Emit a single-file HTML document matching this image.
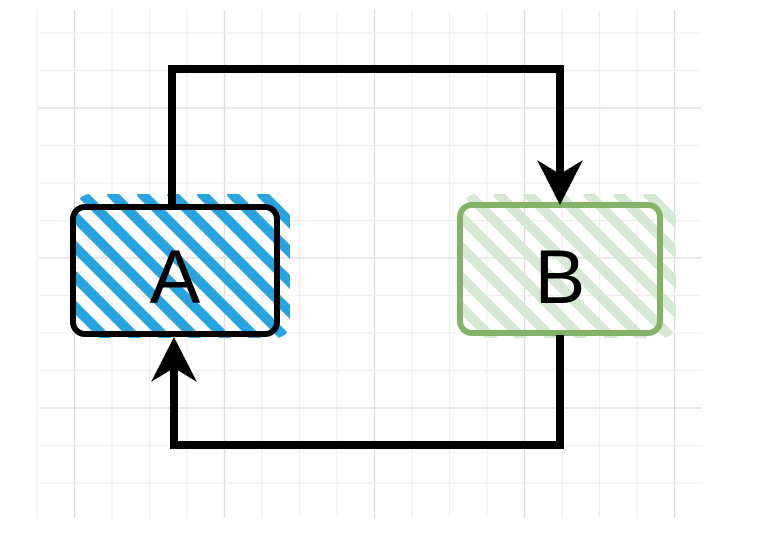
<!DOCTYPE html>
<html><head><meta charset="utf-8"><style>
html,body{margin:0;padding:0;background:#fff;width:759px;height:534px;overflow:hidden}
svg{display:block}
text{font-family:"Liberation Sans",sans-serif}
</style></head><body>
<svg id="s" width="759" height="534" viewBox="0 0 759 534">
<defs>
<clipPath id="ca"><rect x="76" y="194" width="214" height="144" rx="14"/></clipPath>
<clipPath id="cb"><rect x="462" y="194" width="214" height="144" rx="14"/></clipPath>
</defs>
<g id="grid"></g>
<g>
<g clip-path="url(#ca)" stroke="#27a3e0" stroke-width="10" stroke-linecap="round" id="ha"></g>
<rect x="73" y="207" width="204" height="127" rx="12" fill="none" stroke="#000" stroke-width="6"/>
<text x="175" y="303" font-size="76" text-anchor="middle" fill="#000">A</text>
</g>
<g>
<g clip-path="url(#cb)" stroke="#d5e8d4" stroke-width="10" stroke-linecap="round" id="hb"></g>
<rect x="460" y="205" width="200" height="128" rx="12" fill="none" stroke="#82b366" stroke-width="6"/>
<text x="560" y="303" font-size="76" text-anchor="middle" fill="#000">B</text>
</g>
<g>
<polyline points="172,205 172,69 560,69 560,180" fill="none" stroke="#000" stroke-width="8"/>
<polygon points="560,205 537,160 560,174 583,160" fill="#000"/>
</g>
<g>
<polyline points="560,335 560,445 174,445 174,360" fill="none" stroke="#000" stroke-width="8"/>
<polygon points="174,337 151,382 174,368 197,382" fill="#000"/>
</g>
</svg>
<script>
const NS='http://www.w3.org/2000/svg';
const g=document.getElementById('grid');
for(let i=0;i<=17;i++){
  const x=37+i*37.5;
  const l=document.createElementNS(NS,'line');
  l.setAttribute('x1',x);l.setAttribute('x2',x);l.setAttribute('y1',10);l.setAttribute('y2',518);
  l.setAttribute('stroke',(i%4===1)?'#dcdcdc':'#f0f0f0');l.setAttribute('stroke-width',1.3);
  
  
  if(x<=703) g.appendChild(l);
}
for(let i=0;i<=13;i++){
  const y=33+i*37.5;
  const l=document.createElementNS(NS,'line');
  l.setAttribute('y1',y);l.setAttribute('y2',y);l.setAttribute('x1',39);l.setAttribute('x2',702);
  l.setAttribute('stroke',(i%4===2)?'#dcdcdc':'#f0f0f0');l.setAttribute('stroke-width',1.3);
  
  
  if(y<=518) g.appendChild(l);
}
function hatch(id,x0,y0,w,h){
  const el=document.getElementById(id);
  for(let k=-h;k<w+h;k+=30){
    const l=document.createElementNS(NS,'line');
    l.setAttribute('x1',x0+k);l.setAttribute('y1',y0);
    l.setAttribute('x2',x0+k+h);l.setAttribute('y2',y0+h);
    
    
    el.appendChild(l);
  }
}
hatch('ha',76,194,214,144);
hatch('hb',462,194,214,144);
</script>
</body></html>
